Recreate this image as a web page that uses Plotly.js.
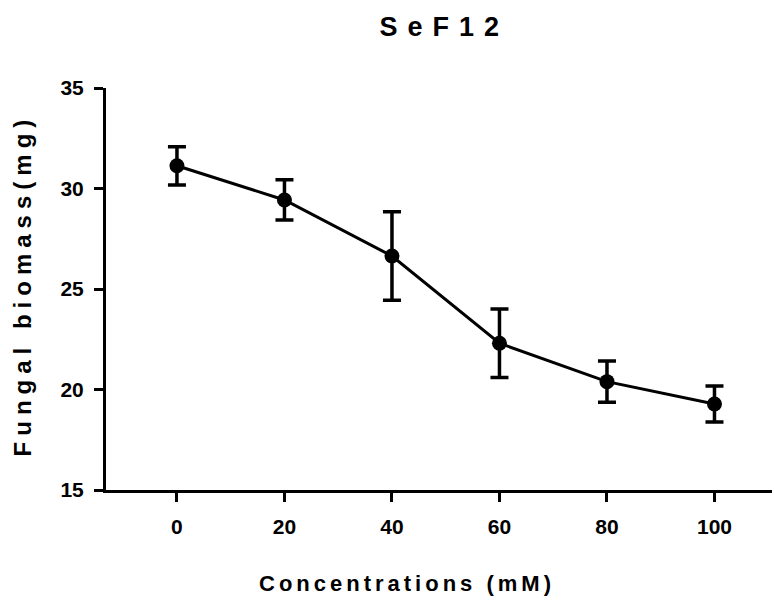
<!DOCTYPE html>
<html>
<head>
<meta charset="utf-8">
<script src="https://cdn.plot.ly/plotly-3.0.1.min.js"></script>
<style>
html,body{margin:0;padding:0;background:#fff;}
#chart{width:774px;height:601px;}
</style>
</head>
<body>
<div id="chart"></div>
<script>
var concentrations = [0, 20, 40, 60, 80, 100];
var biomass = [31.13, 29.43, 26.64, 22.3, 20.39, 19.28];
var biomassSD = [0.95, 1.0, 2.2, 1.7, 1.03, 0.9];
var xTickVals = [0, 20, 40, 60, 80, 100];
var yTickVals = [15, 20, 25, 30, 35];

var font = 'Liberation Sans, Arial, sans-serif';

var trace = {
  x: concentrations,
  y: biomass,
  type: 'scatter',
  mode: 'lines+markers',
  line: {color: '#000', width: 3},
  marker: {color: '#000', size: 15},
  error_y: {type: 'data', array: biomassSD, visible: true, color: '#000', thickness: 3.5, width: 9},
  cliponaxis: false,
  showlegend: false
};

var layout = {
  width: 774, height: 601,
  paper_bgcolor: '#fff', plot_bgcolor: '#fff',
  margin: {l: 106, r: 2, t: 88, b: 111},
  title: {text: '<b>SeF12</b>', font: {family: font, size: 27, color: '#000'}, x: 0.574, xanchor: 'center', y: 0.955, yanchor: 'middle'},
  xaxis: {
    range: [-13.2, 110.7],
    tickvals: xTickVals,
    ticktext: xTickVals.map(function(v){return '<b>' + v + '</b>';}),
    showgrid: false, zeroline: false,
    showline: true, linecolor: '#000', linewidth: 3,
    ticks: 'outside', ticklen: 9, tickwidth: 3, tickcolor: '#000',
    tickfont: {family: font, size: 21, color: '#000'},
    ticklabelstandoff: 7
  },
  yaxis: {
    range: [15, 35],
    tickvals: yTickVals,
    ticktext: yTickVals.map(function(v){return '<b>' + v + '</b>';}),
    showgrid: false, zeroline: false,
    showline: true, linecolor: '#000', linewidth: 3,
    ticks: 'outside', ticklen: 9, tickwidth: 3, tickcolor: '#000',
    tickfont: {family: font, size: 21, color: '#000'},
    ticklabelstandoff: 6
  },
  annotations: [
    {text: '<b>Concentrations (mM)</b>', xref: 'paper', yref: 'paper', x: 0.452, y: -0.232, xanchor: 'center', yanchor: 'middle', showarrow: false, font: {family: font, size: 22, color: '#000'}},
    {text: '<b>Fungal biomass(mg)</b>', xref: 'paper', yref: 'paper', x: -0.124, y: 0.51, xanchor: 'center', yanchor: 'middle', textangle: -90, showarrow: false, font: {family: font, size: 24, color: '#000'}}
  ]
};

Plotly.newPlot('chart', [trace], layout, {displayModeBar: false, staticPlot: true}).then(function(gd){
  function sp(sel, px){
    gd.querySelectorAll(sel).forEach(function(t){ t.style.letterSpacing = px + 'px'; });
  }
  sp('.gtitle', 10);
  var ann = gd.querySelectorAll('.annotation-text');
  if (ann[0]) ann[0].style.letterSpacing = '4px';
  if (ann[1]) ann[1].style.letterSpacing = '6px';
});
</script>
</body>
</html>
